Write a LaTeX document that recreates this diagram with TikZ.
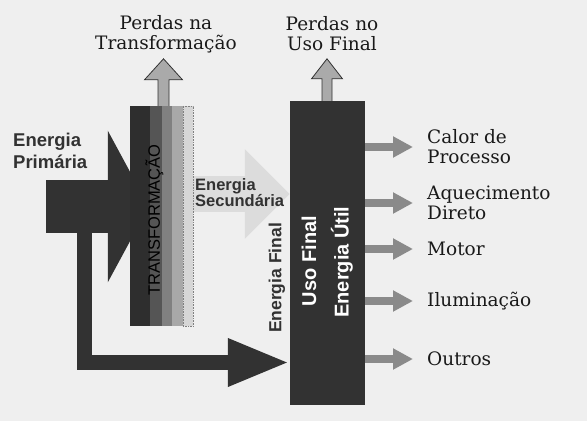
\documentclass[tikz,border=0pt]{standalone}
\usepackage{fontspec}
\setmainfont{DejaVu Serif}
\newfontfamily\headfont{Liberation Sans}
\usetikzlibrary{arrows.meta, positioning, calc}
\definecolor{bgcol}{RGB}{239,239,239}
\definecolor{darkblock}{RGB}{50,50,50}
\definecolor{lossgrey}{RGB}{170,170,170}
\definecolor{outgrey}{RGB}{138,138,138}
\definecolor{secgrey}{RGB}{220,220,220}
\definecolor{stripeA}{RGB}{46,46,46}
\definecolor{stripeB}{RGB}{85,85,85}
\definecolor{stripeC}{RGB}{128,128,128}
\definecolor{stripeD}{RGB}{168,168,168}
\definecolor{stripeE}{RGB}{214,214,214}

\begin{document}
\begin{tikzpicture}[
    x=1pt, y=-1pt,
    block/.style={rectangle, inner sep=0pt, fill=darkblock},
    sidetext/.style={font=\fontsize{18.5}{20}\selectfont, align=left, inner sep=0pt, anchor=west, text=black!90},
    toplabel/.style={font=\fontsize{18.5}{20}\selectfont, align=center, inner sep=0pt, text=black!90},
    boldtext/.style={font=\headfont\bfseries\fontsize{18.5}{22}\selectfont, align=left, inner sep=0pt, text=darkblock},
    vertext/.style={rotate=90, inner sep=0pt, font=\headfont\bfseries\fontsize{20}{22}\selectfont},
    primarrow/.style={-{Triangle[width=150pt,length=41pt]}, line width=53pt, darkblock},
    bypass/.style={-{Triangle[width=44pt,length=62pt]}, line width=15pt, darkblock},
    secarrow/.style={-{Triangle[width=87pt,length=45pt]}, line width=36pt, secgrey},
    outarrow/.style={-{Triangle[width=20pt,length=20pt]}, line width=8pt, outgrey},
    loss/.style={draw=darkblock, fill=lossgrey, line width=0.8pt, line join=miter}
]
    % background
    \fill[bgcol] (0,0) rectangle (587,421);

    % the two blocks
    \node[block, fill=none, minimum width=63pt, minimum height=220pt] (trans) at (161.5,216) {};
    \node[block, minimum width=75pt, minimum height=304pt] (uso) at (327.5,253) {};

    % primary energy and the bypass to final use
    \coordinate (src) at (46,206.5);
    \coordinate (split) at (84.5,230);
    \draw[bypass] (split) |- (uso.west |- 0,362.5);
    \draw[primarrow] (src) -- ([xshift=19pt]trans.west |- src);
    \node[boldtext, anchor=west] (prim) at (13,151) {Energia\\Primária};

    % secondary energy
    \draw[secarrow] ([yshift=22pt]trans.east) -- (uso.west |- 0,194);
    \node[boldtext, anchor=west, font=\headfont\bfseries\fontsize{16.5}{16}\selectfont] (sec) at (195,193) {Energia\\Secundária};

    % transformation stripes
    \foreach \a/\b/\c in {0/20/stripeA, 20/32/stripeB, 32/42/stripeC, 42/53/stripeD, 53/63/stripeE}
        \fill[\c] ($(trans.north west)+(\a,0)$) rectangle ($(trans.south west)+(\b,0)$);
    \draw[densely dotted, gray, line width=0.6pt] ($(trans.north west)+(53,0)$) rectangle (trans.south east);
    \node[rotate=90, inner sep=0pt, font=\headfont\fontsize{16.5}{18}\selectfont, text=black] (transtxt) at ($(trans.center)+(-7,4)$) {TRANSFORMAÇÃO};

    % losses
    \coordinate (tfoot) at ([xshift=2pt]trans.north);
    \draw[loss] ($(tfoot)+(-5.5,0)$) -- ++(0,-26) -- ++(-13.5,0) -- ($(tfoot)+(0,-47)$)
        -- ($(tfoot)+(19,-26)$) -- ++(-13.5,0) -- ($(tfoot)+(5.5,0)$);
    \coordinate (ufoot) at ([xshift=-0.5pt]uso.north);
    \draw[loss] ($(ufoot)+(-5,0)$) -- ++(0,-22) -- ++(-10.5,0) -- ($(ufoot)+(0,-42)$)
        -- ($(ufoot)+(15.5,-22)$) -- ++(-10.5,0) -- ($(ufoot)+(5,0)$);
    \node[toplabel] (tloss) at (166,34) {Perdas na\\Transformação};
    \node[toplabel] (uloss) at (332,34) {Perdas no\\Uso Final};

    % final use texts
    \node[vertext, text=darkblock, font=\headfont\bfseries\fontsize{17.5}{20}\selectfont] (final) at ($(uso.west)+(-13,25)$) {Energia Final};
    \node[vertext, text=white] (usotxt) at ($(uso.center)+(-18.5,8)$) {Uso Final};
    \node[vertext, text=white] (util) at ($(uso.center)+(14.5,9)$) {Energia Útil};

    % useful energy outputs
    \node[sidetext] (calor) at (427,147) {Calor de\\Processo};
    \node[sidetext] (aquec) at (427,203) {Aquecimento\\Direto};
    \node[sidetext] (motor) at (427,249) {Motor};
    \node[sidetext] (ilum) at (427,301) {Iluminação};
    \node[sidetext] (outros) at (427,359) {Outros};
    \foreach \n in {calor, aquec, motor, ilum, outros}
        \draw[outarrow] (uso.east |- \n.west) -- ([xshift=-14pt]\n.west);
\end{tikzpicture}
\end{document}
